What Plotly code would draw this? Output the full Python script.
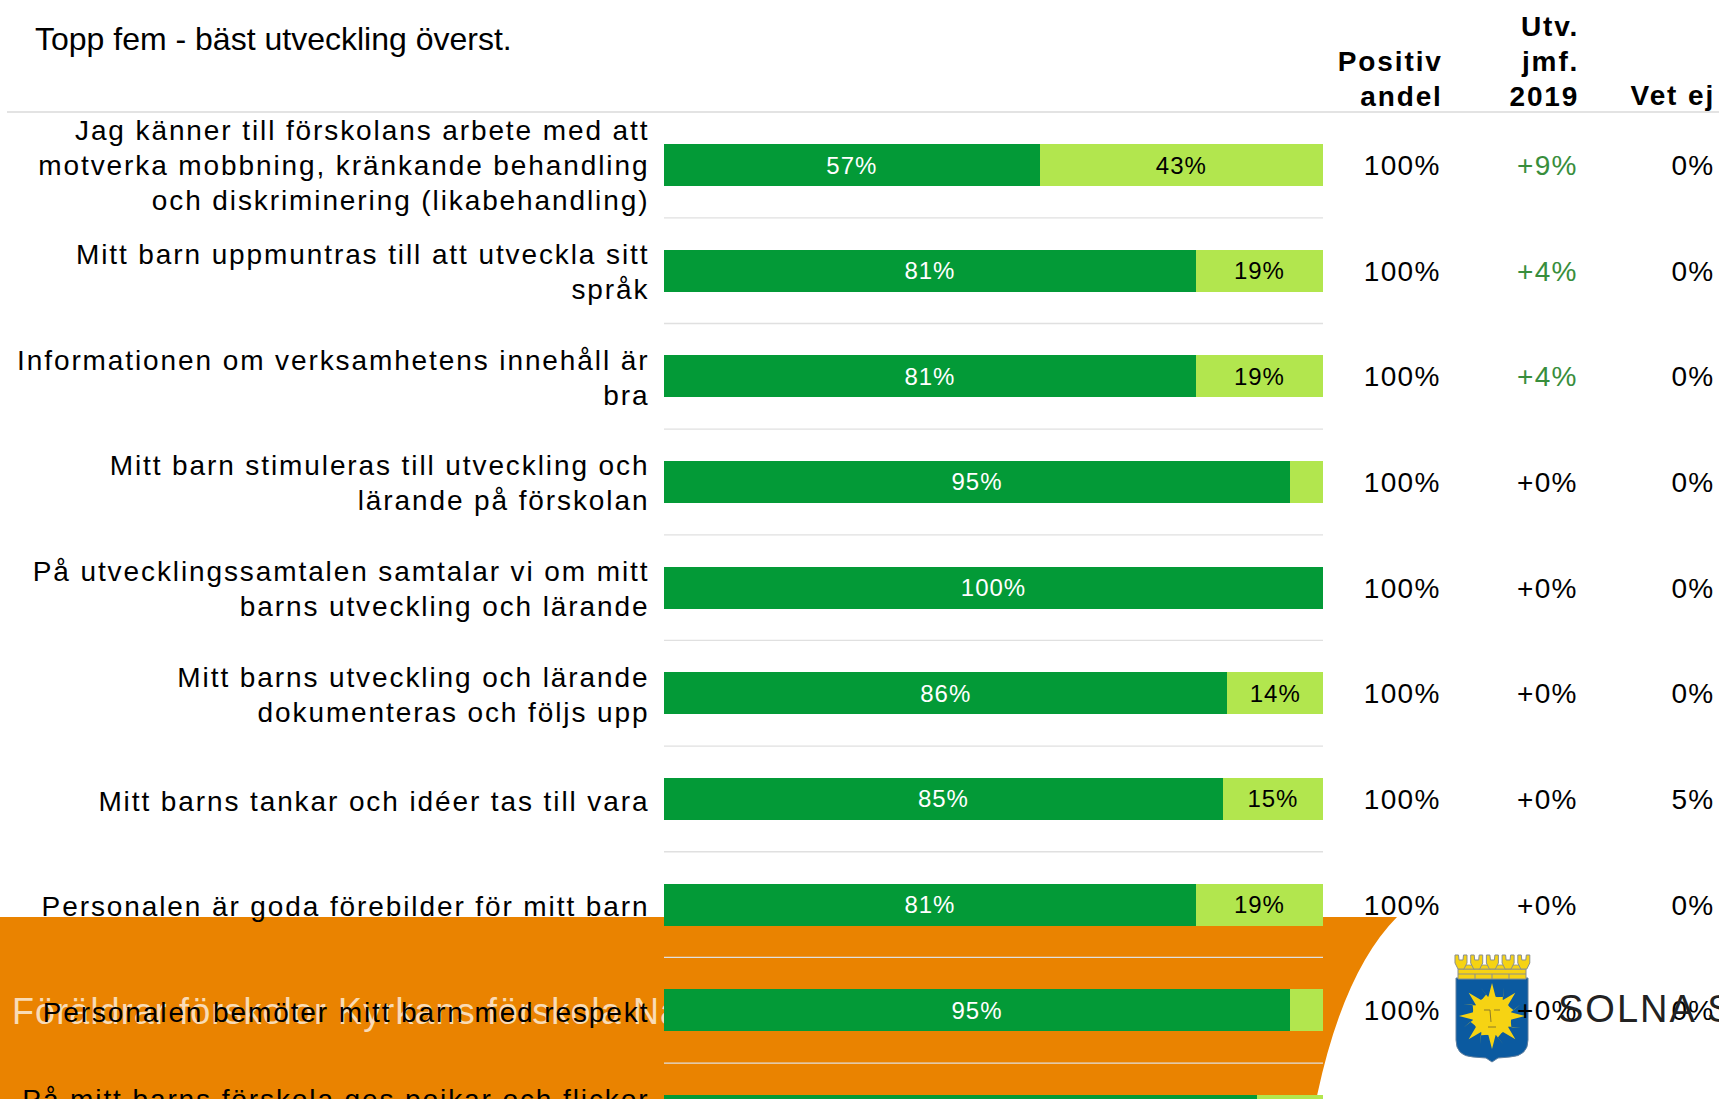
import math
import plotly.graph_objects as go

W, H = 1719, 1190
FONT = "Liberation Sans, Arial, sans-serif"

questions = [
    "Jag känner till förskolans arbete med att<br>motverka mobbning, kränkande behandling<br>och diskriminering (likabehandling)",
    "Mitt barn uppmuntras till att utveckla sitt<br>språk",
    "Informationen om verksamhetens innehåll är<br>bra",
    "Mitt barn stimuleras till utveckling och<br>lärande på förskolan",
    "På utvecklingssamtalen samtalar vi om mitt<br>barns utveckling och lärande",
    "Mitt barns utveckling och lärande<br>dokumenteras och följs upp",
    "Mitt barns tankar och idéer tas till vara",
    "Personalen är goda förebilder för mitt barn",
    "Personalen bemöter mitt barn med respekt",
    "På mitt barns förskola ges pojkar och flickor<br>samma möjligheter",
]
dark_values = [57, 80.7, 80.7, 95, 100, 85.5, 84.8, 80.7, 95, 90]
light_values = [43, 19.3, 19.3, 5, 0, 14.5, 15.2, 19.3, 5, 10]
dark_labels = ["57%", "81%", "81%", "95%", "100%", "86%", "85%", "81%", "95%", "90%"]
light_labels = ["43%", "19%", "19%", "", "", "14%", "15%", "19%", "", "10%"]
positive_share = ["100%"] * 9
development = ["+9%", "+4%", "+4%", "+0%", "+0%", "+0%", "+0%", "+0%", "+0%"]
dont_know = ["0%", "0%", "0%", "0%", "0%", "0%", "5%", "0%", "0%"]
rows = list(range(len(questions)))

DARK, LIGHT, ORANGE = "#039A37", "#B2E64E", "#EA8300"
RULE = "#E0E0E0"


def px(x):
    return x / W


def py(y):
    return 1 - y / H


def pth(points, close=True):
    s = "M" + " L".join(f"{px(a):.5f},{py(b):.5f}" for a, b in points)
    return s + (" Z" if close else "")


fig = go.Figure()
# Banner title, clipped where the chart starts (first subplot: sits under the chart's tick labels)
fig.add_scatter(x=[12], y=[0], xaxis="x", yaxis="y", mode="text",
                text=["Föräldrar förskolor Kyrkans förskola Näckrosen"], textposition="middle right",
                textfont=dict(size=36, color="rgba(255,255,255,0.72)", family=FONT),
                cliponaxis=True, hoverinfo="skip")
fig.add_bar(y=rows, x=dark_values, xaxis="x2", yaxis="y2", orientation="h", width=0.397,
            marker=dict(color=DARK, line_width=0),
            text=dark_labels, textposition="inside",
            insidetextanchor="middle", textangle=0, constraintext="none",
            insidetextfont=dict(color="white", size=24, family=FONT), hoverinfo="skip")
fig.add_bar(y=rows, x=light_values, xaxis="x2", yaxis="y2", orientation="h", width=0.397,
            marker=dict(color=LIGHT, line_width=0),
            text=light_labels, textposition="inside",
            insidetextanchor="middle", textangle=0, constraintext="none",
            insidetextfont=dict(color="black", size=24, family=FONT), hoverinfo="skip")

ROW0, PITCH = 165.0, 105.65
fig.update_layout(
    width=W, height=H, margin=dict(l=0, r=0, t=0, b=0), autosize=False,
    paper_bgcolor="white", plot_bgcolor="rgba(0,0,0,0)", showlegend=False, barmode="stack",
    font=dict(family=FONT, color="black"),
    xaxis2=dict(domain=[px(664), px(1323)], range=[0, 100], visible=False, anchor="y2", fixedrange=True),
    yaxis2=dict(domain=[0, 1], range=[(H - ROW0) / PITCH, -ROW0 / PITCH], tickmode="array", tickvals=rows,
                ticktext=questions, tickfont=dict(size=28, family=FONT, color="black"), ticks="outside",
                ticklen=8, tickcolor="rgba(0,0,0,0)", showgrid=False, zeroline=False, showline=False,
                anchor="x2", fixedrange=True),
    xaxis=dict(domain=[0, px(664)], range=[0, 664], visible=False, anchor="y", fixedrange=True),
    yaxis=dict(domain=[py(1042), py(987)], range=[-1, 1], visible=False, anchor="x", fixedrange=True),
)

shapes = []
# Orange banner with curved right edge
shapes.append(dict(type="path", layer="below", xref="paper", yref="paper", fillcolor=ORANGE, line_width=0,
                   path=f"M0,{py(917)} L{px(1397)},{py(917)} Q{px(1325)},{py(990)} {px(1302)},{py(1190)} L0,{py(1190)} Z"))
# Rules
shapes.append(dict(type="line", layer="below", xref="paper", yref="paper", x0=px(7), x1=1, y0=py(112), y1=py(112),
                   line=dict(color="#E3E3E3", width=2.2)))
for i in rows:
    shapes.append(dict(type="line", layer="below", xref="x2", yref="y2", x0=0, x1=100, y0=i + 0.5, y1=i + 0.5,
                       line=dict(color=RULE, width=1.3)))

# Municipal shield
BLUE, GOLD, EDGE = "#0B5AA0", "#F6D313", "#8A8F8F"
shapes.append(dict(type="path", xref="paper", yref="paper", fillcolor=BLUE, line=dict(color="#5F7F9F", width=1),
                   path=f"M{px(1456)},{py(978)} L{px(1528)},{py(978)} L{px(1528)},{py(1040)} "
                        f"Q{px(1528)},{py(1056)} {px(1510)},{py(1057)} L{px(1498)},{py(1058)} L{px(1492)},{py(1062)} "
                        f"L{px(1486)},{py(1058)} L{px(1473)},{py(1057)} Q{px(1456)},{py(1056)} {px(1456)},{py(1040)} Z"))
# Crown: brick base, arches, merlons
shapes.append(dict(type="path", xref="paper", yref="paper", fillcolor=GOLD, line=dict(color=EDGE, width=1),
                   path=pth([(1458, 969), (1526, 969), (1526, 979), (1458, 979)])))
for k in range(4):
    cx = 1469 + k * 15.7
    shapes.append(dict(type="path", xref="paper", yref="paper", fillcolor=GOLD, line=dict(color=EDGE, width=0.8),
                       path=pth([(cx - 6, 969), (cx - 3, 965), (cx + 3, 965), (cx + 6, 969)])))
for k in range(5):
    cx = 1461 + k * 15.7
    shapes.append(dict(type="path", xref="paper", yref="paper", fillcolor=GOLD, line=dict(color=EDGE, width=1),
                       path=pth([(cx - 6, 955), (cx - 2.5, 955), (cx - 2, 960), (cx + 2, 960), (cx + 2.5, 955),
                                 (cx + 6, 955), (cx + 6, 963), (cx + 3, 969), (cx - 3, 969), (cx - 6, 963)])))
shapes.append(dict(type="line", xref="paper", yref="paper", x0=px(1458), x1=px(1526), y0=py(974), y1=py(974),
                   line=dict(color=EDGE, width=1)))
for bx in (1475, 1492, 1509):
    shapes.append(dict(type="line", xref="paper", yref="paper", x0=px(bx), x1=px(bx), y0=py(974), y1=py(979),
                       line=dict(color=EDGE, width=1)))
# Sun
C = (1492, 1016)
star = []
N = 16
for k in range(N):
    a = 2 * math.pi * k / N - math.pi / 2
    R = 33 if k % 2 == 0 else 31
    if k % 2:
        star.append((C[0] + 0.72 * R * math.cos(a + 0.13), C[1] + 0.72 * R * math.sin(a + 0.13)))
    star.append((C[0] + R * math.cos(a), C[1] + R * math.sin(a)))
    b = a + math.pi / N
    star.append((C[0] + 19 * math.cos(b), C[1] + 19 * math.sin(b)))
shapes.append(dict(type="path", xref="paper", yref="paper", fillcolor=GOLD, line_width=0, path=pth(star)))
shapes.append(dict(type="circle", xref="paper", yref="paper", fillcolor=GOLD, line_width=0,
                   x0=px(C[0] - 19.5), x1=px(C[0] + 19.5), y0=py(C[1] - 19.5), y1=py(C[1] + 19.5)))
for pts in ([(1484, 1010), (1490, 1010), (1491, 1022)], [(1494, 1010), (1500, 1010)], [(1488, 1027), (1496, 1027)]):
    shapes.append(dict(type="path", xref="paper", yref="paper", line=dict(color="#8C7A2A", width=1),
                       path=pth(pts, close=False)))
fig.update_layout(shapes=shapes)


def label(text, x, y, yref="y2", size=28, color="black", anchor="right", bold=False, align="right", yshift=0):
    fig.add_annotation(text=f"<b>{text}</b>" if bold else text, x=px(x), xref="paper", y=y, yref=yref,
                       xanchor=anchor, yanchor="middle" if yref == "y2" else "bottom", showarrow=False, align=align,
                       font=dict(size=size, color=color, family=FONT), borderpad=0, borderwidth=0, yshift=yshift)


for i, (a, b, c) in enumerate(zip(positive_share, development, dont_know)):
    label(a, 1441, i, yshift=-0.5)
    label(b, 1577.5, i, color="#388E3C" if b != "+0%" else "black", yshift=-0.5)
    label(c, 1713.5, i, yshift=-0.5)

label("Positiv<br>andel", 1443, py(111), yref="paper", bold=True, yshift=-1.5)
label("Utv.<br>jmf.<br>2019", 1579, py(111), yref="paper", bold=True, yshift=-4)
label("Vet ej", 1715, py(111), yref="paper", bold=True)
label("Topp fem - bäst utveckling överst.", 35, py(56.5), yref="paper", size=32, anchor="left", align="left")
label("SOLNA STAD", 1558, 7.99, size=38, color="#222222", anchor="left", align="left")

post = """
document.documentElement.style.overflow='hidden';
document.body.style.margin='0';
document.body.style.overflow='hidden';
var gd=document.querySelector('.plotly-graph-div');
gd.querySelectorAll('text').forEach(function(t){
  var fs=parseFloat(t.style.fontSize);
  if(fs==28){
    t.style.letterSpacing=/^[+]?\\d+%$/.test(t.textContent)?'1.3px':'1.9px';
    t.querySelectorAll('tspan.line').forEach(function(l,i){ if(i>0) l.setAttribute('dy',(i*1.25)+'em'); });
    if(t.closest('.y2tick')||t.classList.contains('y2tick')){
      t.setAttribute('transform', (t.getAttribute('transform')||'')+' translate(0,1.8)');
    }
  }
  else if(fs==24){t.style.letterSpacing='1px';}
  else if(fs==36){t.style.letterSpacing='1.1px';}
  else if(fs==38){t.style.letterSpacing='2px';}
});
"""
fig.write_html("out.html", post_script=post, config=dict(displayModeBar=False, staticPlot=True))
